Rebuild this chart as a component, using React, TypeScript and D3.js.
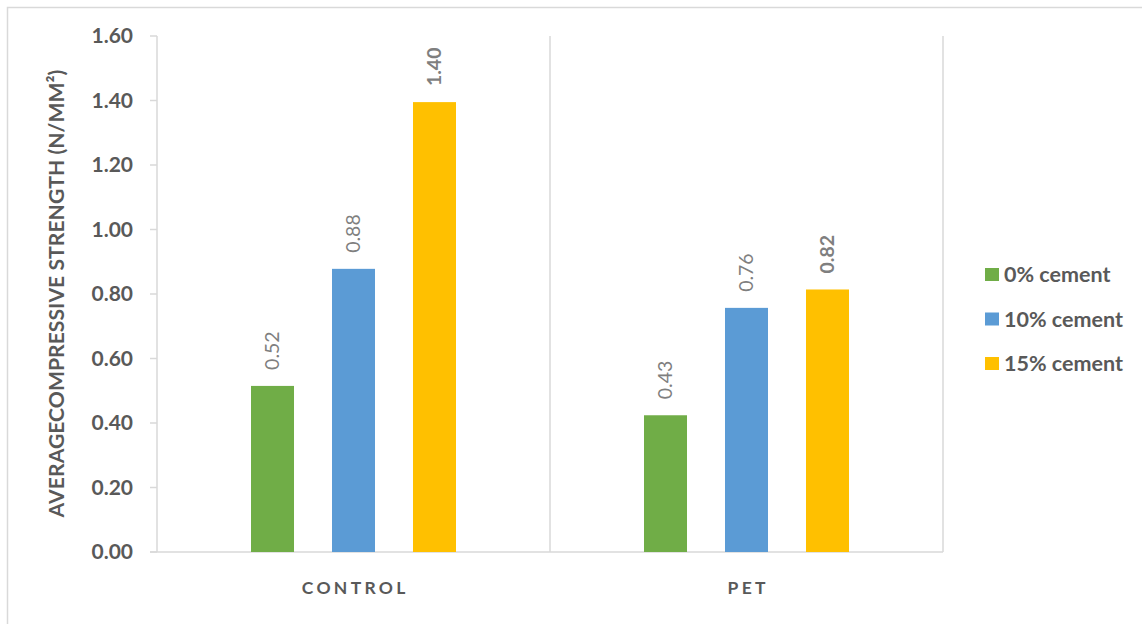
import React from "react";
import * as d3 from "d3";

const categories = ["CONTROL", "PET"];
const seriesNames = ["0% cement", "10% cement", "15% cement"];
const seriesColors = ["#70AD47", "#5B9BD5", "#FFC000"];
const controlValues = [0.515, 0.878, 1.395];
const petValues = [0.424, 0.757, 0.814];
const controlLabels = ["0.52", "0.88", "1.40"];
const petLabels = ["0.43", "0.76", "0.82"];
const yTicks = [0, 0.2, 0.4, 0.6, 0.8, 1.0, 1.2, 1.4, 1.6];

const W = 1142;
const H = 624;
const left = 157;
const right = 943;
const top = 36;
const bottom = 552;

export default function App() {
  const x = d3.scaleBand<string>().domain(categories).range([left, right]).padding(0);
  const y = d3.scaleLinear().domain([0, 1.6]).range([bottom, top]);
  const groupHalf = 102.5;
  const inner = d3
    .scaleBand<string>()
    .domain(seriesNames)
    .range([-groupHalf, groupHalf])
    .paddingInner(0.469)
    .paddingOuter(0);
  const valuesByCat = [controlValues, petValues];
  const labelsByCat = [controlLabels, petLabels];
  const grid = "#d9d9d9";
  const font = "Lato, 'Open Sans', sans-serif";

  return (
    <div style={{ position: "absolute", left: 0, top: 0 }}>
      <svg width={W} height={H} style={{ display: "block" }}>
        <rect x={0} y={0} width={W} height={H} fill="#fff" />
        <path d={`M7.5,${H} V7.5 H${W}`} fill="none" stroke={grid} strokeWidth={1.5} />
        {categories.map((c) => (
          <line
            key={c}
            x1={x(c)! + x.bandwidth()}
            x2={x(c)! + x.bandwidth()}
            y1={top}
            y2={bottom}
            stroke={grid}
            strokeWidth={1.5}
          />
        ))}
        <line x1={left} x2={left} y1={top} y2={bottom} stroke={grid} strokeWidth={1.5} />
        <line x1={left - 7} x2={right} y1={bottom} y2={bottom} stroke={grid} strokeWidth={1.5} />
        {yTicks.map((t) => (
          <g key={t}>
            <line x1={left - 7} x2={left} y1={y(t)} y2={y(t)} stroke={grid} strokeWidth={1.5} />
            <text
              x={133}
              y={y(t)}
              dy="0.35em"
              textAnchor="end"
              fontFamily={font}
              fontWeight={700}
              fontSize={21}
              fill="#595959"
            >
              {t.toFixed(2)}
            </text>
          </g>
        ))}
        {categories.map((c, ci) => {
          const cx = x(c)! + x.bandwidth() / 2;
          return (
            <g key={c}>
              {seriesNames.map((s, si) => {
                const v = valuesByCat[ci][si];
                const bx = cx + inner(s)!;
                const bw = inner.bandwidth();
                const lx = bx + bw / 2;
                const ly = y(v) - 16;
                return (
                  <g key={s}>
                    <rect x={bx} y={y(v)} width={bw} height={bottom - y(v)} fill={seriesColors[si]} />
                    <text
                      transform={`translate(${lx},${ly}) rotate(-90)`}
                      dy="0.35em"
                      textAnchor="start"
                      fontFamily={font}
                      fontWeight={si === 2 ? 700 : 400}
                      fontSize={19.5}
                      fill="#7f7f7f"
                    >
                      {labelsByCat[ci][si]}
                    </text>
                  </g>
                );
              })}
              <text
                x={cx}
                y={594}
                dx={1.75}
                textAnchor="middle"
                fontFamily={font}
                fontWeight={700}
                fontSize={17.5}
                letterSpacing={3.3}
                fill="#595959"
              >
                {c}
              </text>
            </g>
          );
        })}
        <text
          transform={`translate(57,${(70 + 517) / 2}) rotate(-90)`}
          dy="0.35em"
          textAnchor="middle"
          fontFamily={font}
          fontWeight={700}
          fontSize={21.2}
          fill="#595959"
        >
          AVERAGECOMPRESSIVE STRENGTH (N/MM²)
        </text>
        {seriesNames.map((s, i) => {
          const cy = 274.5 + i * 44.5;
          return (
            <g key={s}>
              <rect x={985} y={cy - 6.5} width={14} height={13} fill={seriesColors[i]} />
              <text
                x={1004}
                y={cy}
                dy="0.36em"
                fontFamily={font}
                fontWeight={700}
                fontSize={21.5}
                fill="#595959"
              >
                {s}
              </text>
            </g>
          );
        })}
      </svg>
    </div>
  );
}
